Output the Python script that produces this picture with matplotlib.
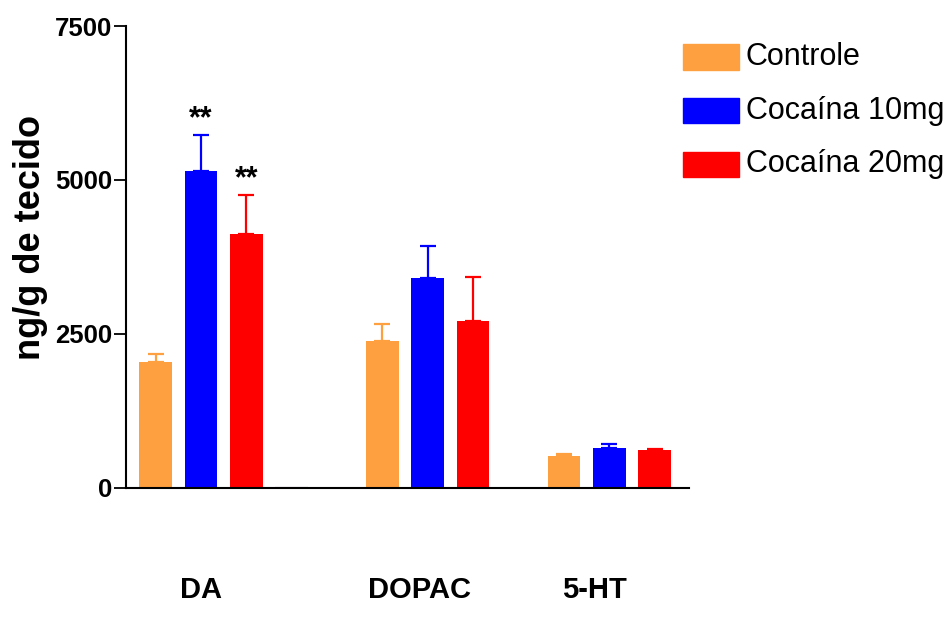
import matplotlib
matplotlib.use("Agg")
import matplotlib.pyplot as plt
from matplotlib.patches import Rectangle

plt.rcParams['font.family'] = ['Liberation Sans', 'DejaVu Sans']

# Neurotransmitter levels (ng/g of tissue), mean and upper SEM
groups = ["DA", "DOPAC", "5-HT"]
series = ["Controle", "Cocaína 10mg", "Cocaína 20mg"]
colors = ["#FFA040", "#0000FF", "#FF0000"]

controle = [2050, 2385, 515]
cocaina_10 = [5150, 3410, 645]
cocaina_20 = [4120, 2710, 618]

controle_err = [125, 280, 28]
cocaina_10_err = [575, 520, 60]
cocaina_20_err = [635, 705, 18]

significance = [["", "**", "**"], ["", "", ""], ["", "", ""]]

yticks = [0, 2500, 5000, 7500]

values = [controle, cocaina_10, cocaina_20]
errors = [controle_err, cocaina_10_err, cocaina_20_err]

# bar slot of the first bar of each group (GraphPad-style slot layout)
group_start = [0, 5, 9]
label_slot = [0.99, 5.81, 9.68]
bar_w = 0.72

fig = plt.figure(figsize=(9.53, 6.18), dpi=100)
ax = fig.add_axes([0.1322, 0.2108, 0.5908, 0.7471])

for s, (vals, errs, col) in enumerate(zip(values, errors, colors)):
    xs = [g + s for g in group_start]
    ax.bar(xs, vals, width=bar_w, color=col, edgecolor='none', zorder=2)
    ax.errorbar(xs, vals, yerr=[[0] * len(vals), errs], fmt='none',
                ecolor=col, elinewidth=1.6, capsize=6, capthick=1.6, zorder=3)
    for g, x in enumerate(xs):
        mark = significance[g][s]
        if mark:
            ax.text(x, vals[g] + errs[g] + 20, mark, ha='center', va='bottom',
                    fontsize=22, fontweight='bold', color='black')

# empty fourth slot of the DA group
ax.hlines(0, group_start[0] + 3 - bar_w / 2, group_start[0] + 3 + bar_w / 2,
          color='#500050', linewidth=1.5, zorder=2)

ax.set_xlim(-0.653, 11.76)
ax.set_ylim(0, 7500)
ax.set_yticks(yticks)
ax.set_yticklabels([str(t) for t in yticks], fontsize=18.5, fontweight='bold')
ax.tick_params(axis='y', length=9, width=1.3, pad=1)
ax.set_xticks([])

for side in ['top', 'right']:
    ax.spines[side].set_visible(False)
for side in ['left', 'bottom']:
    ax.spines[side].set_linewidth(1.5)

fig.text(31 / 953, 1 - 237 / 618, "ng/g de tecido", rotation=90,
         ha='center', va='center', fontsize=26, fontweight='bold')

for name, slot in zip(groups, label_slot):
    ax.text(slot, -0.222, name, transform=ax.get_xaxis_transform(),
            ha='center', va='center', fontsize=21, fontweight='bold')

# legend built from colored boxes and labels
W, H = 953, 618
for i, (name, col) in enumerate(zip(series, colors)):
    yc = 57 + 53.5 * i
    fig.patches.append(Rectangle((683 / W, 1 - (yc + 12.5) / H), 56 / W, 25 / H,
                                 transform=fig.transFigure, color=col))
    fig.text(746 / W, 1 - yc / H, name, ha='left', va='center', fontsize=22)

fig.savefig("out.png", dpi=100)
